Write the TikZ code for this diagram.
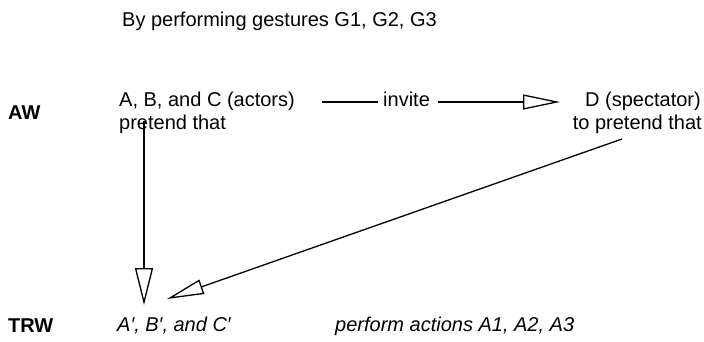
\documentclass[tikz,border=0pt]{standalone}
\usepackage{fontspec}
\setmainfont{Liberation Sans}
\usetikzlibrary{arrows.meta}
\tikzset{
  lbl/.style={inner sep=0pt, anchor=base west, font=\fontsize{20}{23}\selectfont},
  lble/.style={inner sep=0pt, anchor=base east, font=\fontsize{20}{23}\selectfont},
  worldlbl/.style={lbl, font=\fontsize{20}{23}\selectfont\bfseries},
  itlbl/.style={lbl, font=\fontsize{20}{23}\selectfont\itshape},
  conn/.style={line width=1.3pt, line join=miter},
  openhead/.style={conn, -{Triangle[open, length=37pt, width=#1, line width=1.3pt]}},
}
\begin{document}
\begin{tikzpicture}[x=1pt, y=-1pt]
\useasboundingbox (0,0) rectangle (704,342);
% texts
\node[lbl] (top) at (122,27) {By performing gestures G1, G2, G3};
\node[worldlbl] (aw) at (8,120) {AW};
\node[worldlbl] (trw) at (8,332) {TRW};
\node[lbl] (abc1) at (119,107) {A, B, and C (actors)};
\node[lbl] (abc2) at (119,130) {pretend that};
\node[lble] (d1) at (701,107) {D (spectator)};
\node[lble] (d2) at (702,130) {to pretend that};
\node[lbl] (invite) at (383,107) {invite};
\node[itlbl] (abcp) at (117,331) {A′, B′, and C′};
\node[itlbl] (perform) at (335,331) {perform actions A1, A2, A3};
% connector end points
\coordinate (invA) at (322,102);
\coordinate (invB) at (378,102);
\coordinate (invC) at (438,102);
\coordinate (invD) at (560,102);
\coordinate (vStart) at (144,121);
\coordinate (vTip) at (144,305);
\coordinate (dStart) at (622,139);
\coordinate (dTip) at (167,299);
% connectors
\draw[conn] (invA) -- (invB);
\draw[openhead=15pt] (invC) -- (invD);
\draw[openhead=18pt] (vStart) -- (vTip);
\draw[openhead=15pt] (dStart) -- (dTip);
\end{tikzpicture}
\end{document}
